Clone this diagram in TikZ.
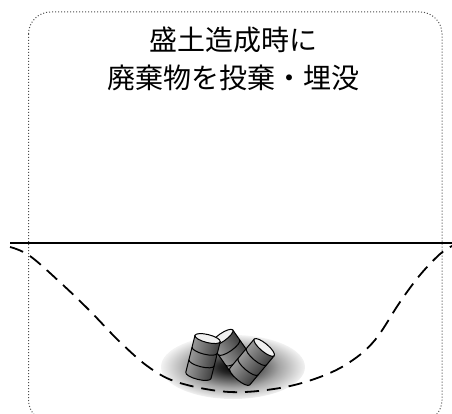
\documentclass[tikz,border=0pt]{standalone}
\usepackage{fontspec}
\newfontfamily\jpfont{Noto Sans CJK JP}

\pgfdeclareradialshading{pitshade}{\pgfpoint{0bp}{0bp}}{%
  color(0bp)=(black); color(5bp)=(black!85); color(16bp)=(black!35); color(25bp)=(black!5); color(50bp)=(black!5)}

\tikzset{
  drumbody/.style={draw=black, line width=1pt, left color=gray!80, middle color=gray!10, right color=black!75},
  drumcap/.style={draw=black, line width=1pt, fill=gray!12},
  pitline/.style={line width=1.8pt, dash pattern=on 14pt off 8pt},
}

% one drum, centred at (#1,#2) and tilted by #3
\newcommand{\drum}[3]{%
  \begin{scope}[transform canvas={shift={(#1,#2)}, rotate=#3}]
    \path[drumbody] (-13,-19) -- (-13,19) arc (180:0:13 and 4) -- (13,-19) -- cycle;
    \draw[line width=1pt] (-13,-7) arc (180:0:13 and 4);
    \draw[line width=1pt] (-13,6) arc (180:0:13 and 4);
    \path[drumcap] (0,-19) ellipse (13 and 4);
  \end{scope}}

\begin{document}
\begin{tikzpicture}[x=1pt, y=-1pt]
\useasboundingbox (0,0) rectangle (452,414);
\clip (0,0) rectangle (452,414);

% Frame
\draw[black!70, dotted, line width=1pt, rounded corners=22] (28.5,12) rectangle (442,422);

% Title
\node[align=center, font=\jpfont\fontsize{28}{38}\selectfont] (title) at (233,59) {盛土造成時に\\廃棄物を投棄・埋没};

% Shadow under the drums
\path[shading=pitshade] (233,367) ellipse (72 and 32);

% Ground
\coordinate (gl) at (10,243);
\coordinate (gr) at (452,243);
\draw[line width=1.6pt] (gl) -- (gr);

% Original valley
\draw[pitline] plot[smooth, tension=0.6] coordinates {(10,247) (30,256) (63,285) (90,311) (120,342) (150,368) (180,383) (230,392) (280,388) (320,377) (350,362) (375,340) (400,302) (420,275) (440,254) (452,246)};

% Drums
\drum{233}{353}{35}
\drum{203}{357}{-14}
\drum{252}{362}{-40}
\end{tikzpicture}
\end{document}
